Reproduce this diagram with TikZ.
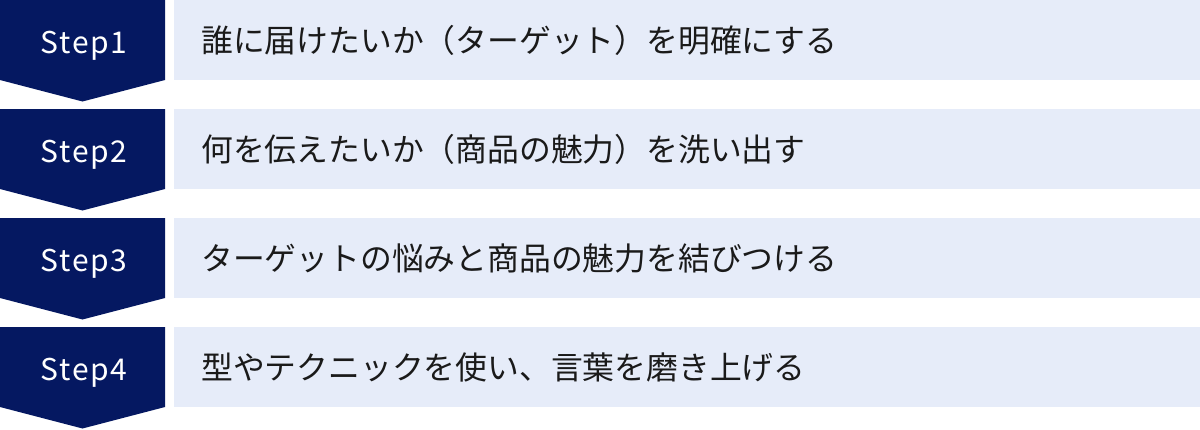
\documentclass[tikz,border=0pt]{standalone}
\usepackage{fontspec}
\setmainfont{Noto Sans CJK JP}
\newfontfamily\stepfont[LetterSpace=6]{Noto Sans CJK JP}
\usetikzlibrary{positioning}
\definecolor{navy}{HTML}{051861}
\definecolor{barblue}{HTML}{E6ECF9}
\definecolor{ink}{HTML}{1A1A1A}

\begin{document}
\begin{tikzpicture}[x=1pt,y=1pt,
  badge/.style={fill=navy},
  steplabel/.style={text=white,anchor=base,
    font=\stepfont\fontsize{30}{30}\selectfont},
  bar/.style={fill=barblue,anchor=north west,minimum width=1026pt,
    minimum height=80pt,inner xsep=27pt,text width=972pt,align=left,
    text=ink,font=\fontsize{31.8}{32}\selectfont}]

  \useasboundingbox (0,0) rectangle (1200,-429);

  \def\pitch{109}

  \foreach \i/\txt in {1/{誰に届けたいか（ターゲット）を明確にする},
                       2/{何を伝えたいか（商品の魅力）を洗い出す},
                       3/{ターゲットの悩みと商品の魅力を結びつける},
                       4/{型やテクニックを使い、言葉を磨き上げる}} {
    \pgfmathsetmacro\rowtop{-(\i-1)*\pitch}
    \fill[badge] (0,\rowtop) -- ++(165,0) -- ++(0,-80) -- ++(-82.5,-21.5)
      -- ++(-82.5,21.5) -- cycle;
    \node[steplabel] (s\i) at (84,\rowtop-53) {Step\i};
    \node[bar] (t\i) at (174,\rowtop) {\txt};
  }

\end{tikzpicture}
\end{document}
